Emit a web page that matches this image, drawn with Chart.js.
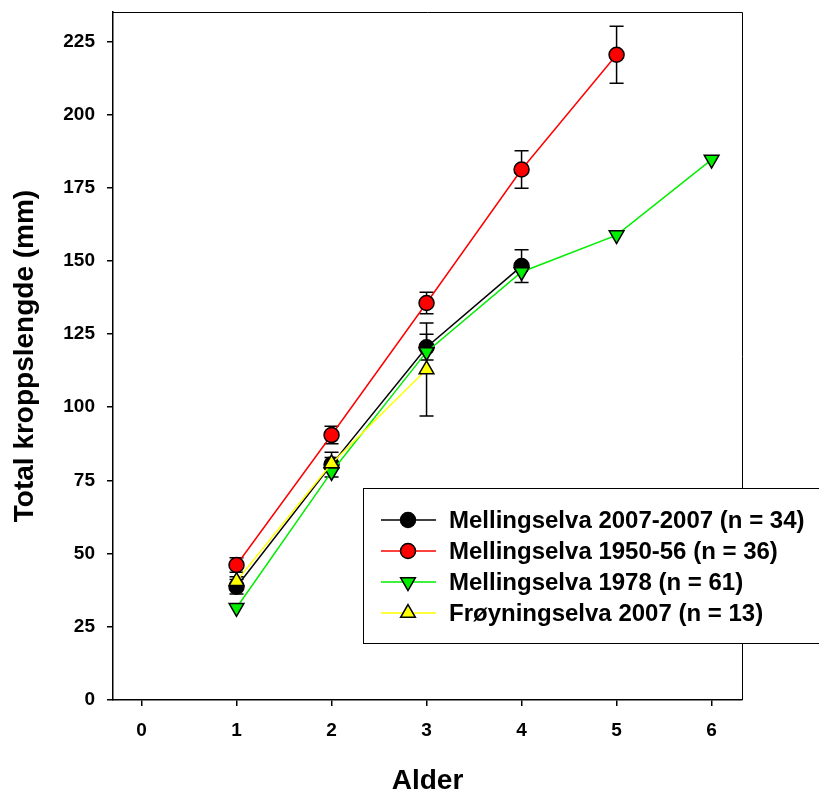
<!DOCTYPE html>
<html>
<head>
<meta charset="utf-8">
<title>Total kroppslengde</title>
<script src="https://cdn.jsdelivr.net/npm/chart.js@4.4.0/dist/chart.umd.min.js"></script>
<style>
    html, body { margin: 0; padding: 0; background: #fff; }
    #wrap { width: 819px; height: 789px; }
</style>
</head>
<body>
<div id="wrap"><canvas id="lengthChart" width="819" height="789"></canvas></div>
<script>
// Age classes and axis ticks
const ages = [1, 2, 3, 4, 5, 6];
const xTicks = [0, 1, 2, 3, 4, 5, 6];
const yTicks = [0, 25, 50, 75, 100, 125, 150, 175, 200, 225];

// Mean total body length (mm) per age, with error (mm)
const mell2007 = [38.7, 80.4, 120.5, 148.2];
const mell2007Err = [2.5, 4.2, 4.4, 5.6];
const mell1950 = [46.1, 90.5, 135.6, 181.2, 220.4];
const mell1950Err = [2.5, 3.0, 3.7, 6.4, 9.7];
const mell1978 = [31.5, 77.9, 118.9, 146.2, 158.8, 184.6];
const froy2007 = [40.6, 80.8, 112.9];
const froy2007Err = [1.5, 2.0, 15.9];

const seriesLabels = [
    'Mellingselva 2007-2007 (n = 34)',
    'Mellingselva 1950-56 (n = 36)',
    'Mellingselva 1978 (n = 61)',
    'Frøyningselva 2007 (n = 13)'
];

Chart.defaults.font.family = "'Liberation Sans', Arial, sans-serif";
Chart.defaults.color = '#000';

function toPoints(values) {
    return values.map((v, i) => ({ x: ages[i], y: v }));
}

/**
 * Vertical error bars with caps, drawn under the markers
 */
const errorBars = {
    id: 'errorBars',
    beforeDatasetsDraw(chart) {
        const { ctx, scales: { x, y } } = chart;
        ctx.save();
        ctx.strokeStyle = '#000';
        ctx.lineWidth = 1.5;
        chart.data.datasets.forEach(ds => {
            if (!ds.errors) return;
            ds.data.forEach((pt, i) => {
                const e = ds.errors[i];
                if (!e) return;
                const px = x.getPixelForValue(pt.x);
                const top = y.getPixelForValue(pt.y + e);
                const bot = y.getPixelForValue(pt.y - e);
                ctx.beginPath();
                ctx.moveTo(px, top);
                ctx.lineTo(px, bot);
                ctx.moveTo(px - 7, top);
                ctx.lineTo(px + 7, top);
                ctx.moveTo(px - 7, bot);
                ctx.lineTo(px + 7, bot);
                ctx.stroke();
            });
        });
        ctx.restore();
    }
};

/**
 * Top/right frame and the boxed legend inside the plot
 */
const frameAndLegend = {
    id: 'frameAndLegend',
    afterDraw(chart) {
        const { ctx, chartArea: a } = chart;
        ctx.save();
        ctx.strokeStyle = '#000';
        ctx.lineWidth = 1;
        ctx.beginPath();
        ctx.moveTo(a.left, a.top + 0.5);
        ctx.lineTo(a.right + 0.5, a.top + 0.5);
        ctx.lineTo(a.right + 0.5, a.bottom);
        ctx.stroke();

        // legend box
        ctx.fillStyle = '#fff';
        ctx.fillRect(363.5, 488.5, 470, 155);
        ctx.strokeRect(363.5, 488.5, 470, 155);

        const rowY = [520, 551, 582, 613];
        ctx.font = "bold 24px 'Liberation Sans', Arial, sans-serif";
        ctx.textBaseline = 'middle';
        ctx.textAlign = 'left';
        chart.data.datasets.forEach((ds, i) => {
            const yy = rowY[i];
            ctx.strokeStyle = ds.borderColor;
            ctx.lineWidth = 1.5;
            ctx.beginPath();
            ctx.moveTo(381, yy);
            ctx.lineTo(436, yy);
            ctx.stroke();
            ctx.fillStyle = ds.pointBackgroundColor;
            ctx.strokeStyle = ds.pointBorderColor;
            ctx.lineWidth = ds.pointBorderWidth;
            Chart.helpers.drawPoint(ctx, {
                pointStyle: ds.pointStyle,
                rotation: ds.pointRotation || 0,
                radius: ds.pointRadius,
                borderWidth: ds.pointBorderWidth
            }, 408, yy);
            ctx.fillStyle = '#000';
            ctx.fillText(ds.label, 449, yy + 1);
        });
        ctx.restore();
    }
};

const ctx = document.getElementById('lengthChart').getContext('2d');

new Chart(ctx, {
    type: 'line',
    data: {
        datasets: [{
            label: seriesLabels[0],
            data: toPoints(mell2007),
            errors: mell2007Err,
            borderColor: '#000000',
            pointBackgroundColor: '#000000',
            pointStyle: 'circle',
            pointRadius: 7.5,
            order: 4
        }, {
            label: seriesLabels[1],
            data: toPoints(mell1950),
            errors: mell1950Err,
            borderColor: '#ff0000',
            pointBackgroundColor: '#ff0000',
            pointStyle: 'circle',
            pointRadius: 7.5,
            order: 3
        }, {
            label: seriesLabels[2],
            data: toPoints(mell1978),
            borderColor: '#00ee00',
            pointBackgroundColor: '#00ee00',
            pointStyle: 'triangle',
            pointRotation: 180,
            pointRadius: 8.5,
            order: 2
        }, {
            label: seriesLabels[3],
            data: toPoints(froy2007),
            errors: froy2007Err,
            borderColor: '#ffff00',
            pointBackgroundColor: '#ffff00',
            pointStyle: 'triangle',
            pointRadius: 8.5,
            order: 1
        }].map(ds => Object.assign({
            borderWidth: 1.5,
            pointBorderColor: '#000000',
            pointBorderWidth: 1.5,
            pointHoverRadius: ds.pointRadius,
            tension: 0,
            fill: false
        }, ds))
    },
    options: {
        responsive: false,
        animation: false,
        layout: {
            padding: { top: 12, right: 77, left: 0, bottom: 0 }
        },
        plugins: {
            legend: { display: false },
            tooltip: { enabled: false }
        },
        scales: {
            x: {
                type: 'linear',
                min: -0.3,
                max: 6.32,
                afterBuildTicks: scale => { scale.ticks = xTicks.map(v => ({ value: v })); },
                afterFit: scale => {
                    scale.height = 89;
                    scale.paddingLeft = 0;
                    scale.paddingRight = 0;
                },
                border: { display: true, color: '#000', width: 1.5 },
                grid: {
                    drawOnChartArea: false,
                    drawTicks: true,
                    tickLength: 6,
                    color: '#000',
                    lineWidth: 1.5
                },
                ticks: {
                    padding: 13,
                    font: { size: 19, weight: 'bold' },
                    maxRotation: 0
                },
                title: {
                    display: true,
                    text: 'Alder',
                    font: { size: 28, weight: 'bold' },
                    padding: { top: 0, bottom: -9 }
                }
            },
            y: {
                type: 'linear',
                min: 0,
                max: 235,
                afterBuildTicks: scale => { scale.ticks = yTicks.map(v => ({ value: v })); },
                afterFit: scale => {
                    scale.width = 113;
                    scale.paddingTop = 0;
                    scale.paddingBottom = 0;
                },
                border: { display: true, color: '#000', width: 1.5 },
                grid: {
                    drawOnChartArea: false,
                    drawTicks: true,
                    tickLength: 6,
                    color: '#000',
                    lineWidth: 1.5
                },
                ticks: {
                    padding: 12,
                    font: { size: 19, weight: 'bold' }
                },
                title: {
                    display: true,
                    text: 'Total kroppslengde (mm)',
                    font: { size: 28, weight: 'bold' },
                    padding: { top: 8, bottom: 0 }
                }
            }
        }
    },
    plugins: [errorBars, frameAndLegend]
});
</script>
</body>
</html>
